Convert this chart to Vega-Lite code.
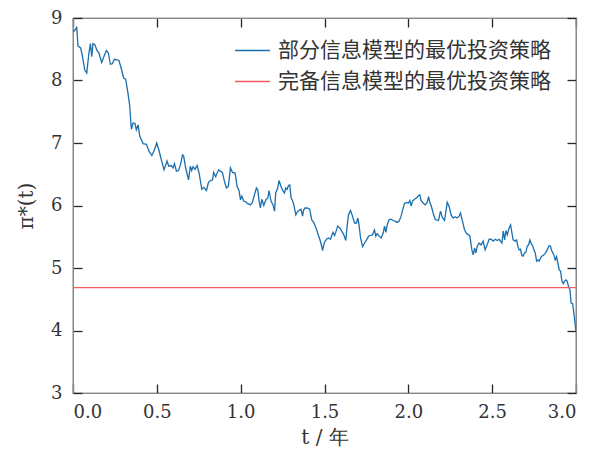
{
  "$schema": "https://vega.github.io/schema/vega-lite/v6.json",
  "autosize": "none",
  "width": 503,
  "height": 375,
  "padding": {"left": 73, "top": 18, "right": 14, "bottom": 61},
  "background": "white",
  "config": {
    "view": {"stroke": "#333333", "strokeWidth": 1.2},
    "font": "DejaVu Serif",
    "axis": {
      "tickColor": "#262626",
      "tickWidth": 1.3,
      "labelFont": "DejaVu Serif",
      "labelFontSize": 18,
      "labelColor": "#333333",
      "titleFont": "DejaVu Serif",
      "titleFontSize": 20,
      "titleColor": "#333333",
      "titleFontWeight": "normal"
    }
  },
  "data": {
    "values": [
      {"t": 0.000, "v": 8.78, "s": "部分信息模型的最优投资策略"},
      {"t": 0.016, "v": 8.82, "s": "部分信息模型的最优投资策略"},
      {"t": 0.022, "v": 8.86, "s": "部分信息模型的最优投资策略"},
      {"t": 0.030, "v": 8.55, "s": "部分信息模型的最优投资策略"},
      {"t": 0.046, "v": 8.52, "s": "部分信息模型的最优投资策略"},
      {"t": 0.056, "v": 8.39, "s": "部分信息模型的最优投资策略"},
      {"t": 0.070, "v": 8.17, "s": "部分信息模型的最优投资策略"},
      {"t": 0.082, "v": 8.12, "s": "部分信息模型的最优投资策略"},
      {"t": 0.095, "v": 8.44, "s": "部分信息模型的最优投资策略"},
      {"t": 0.104, "v": 8.59, "s": "部分信息模型的最优投资策略"},
      {"t": 0.112, "v": 8.38, "s": "部分信息模型的最优投资策略"},
      {"t": 0.119, "v": 8.59, "s": "部分信息模型的最优投资策略"},
      {"t": 0.131, "v": 8.57, "s": "部分信息模型的最优投资策略"},
      {"t": 0.143, "v": 8.48, "s": "部分信息模型的最优投资策略"},
      {"t": 0.155, "v": 8.44, "s": "部分信息模型的最优投资策略"},
      {"t": 0.171, "v": 8.29, "s": "部分信息模型的最优投资策略"},
      {"t": 0.187, "v": 8.40, "s": "部分信息模型的最优投资策略"},
      {"t": 0.199, "v": 8.48, "s": "部分信息模型的最优投资策略"},
      {"t": 0.211, "v": 8.44, "s": "部分信息模型的最优投资策略"},
      {"t": 0.223, "v": 8.26, "s": "部分信息模型的最优投资策略"},
      {"t": 0.235, "v": 8.27, "s": "部分信息模型的最优投资策略"},
      {"t": 0.247, "v": 8.34, "s": "部分信息模型的最优投资策略"},
      {"t": 0.263, "v": 8.33, "s": "部分信息模型的最优投资策略"},
      {"t": 0.274, "v": 8.32, "s": "部分信息模型的最优投资策略"},
      {"t": 0.289, "v": 8.18, "s": "部分信息模型的最优投资策略"},
      {"t": 0.302, "v": 8.04, "s": "部分信息模型的最优投资策略"},
      {"t": 0.314, "v": 8.02, "s": "部分信息模型的最优投资策略"},
      {"t": 0.326, "v": 7.83, "s": "部分信息模型的最优投资策略"},
      {"t": 0.338, "v": 7.60, "s": "部分信息模型的最优投资策略"},
      {"t": 0.348, "v": 7.22, "s": "部分信息模型的最优投资策略"},
      {"t": 0.358, "v": 7.32, "s": "部分信息模型的最优投资策略"},
      {"t": 0.370, "v": 7.31, "s": "部分信息模型的最优投资策略"},
      {"t": 0.378, "v": 7.21, "s": "部分信息模型的最优投资策略"},
      {"t": 0.388, "v": 7.29, "s": "部分信息模型的最优投资策略"},
      {"t": 0.398, "v": 7.11, "s": "部分信息模型的最优投资策略"},
      {"t": 0.418, "v": 6.99, "s": "部分信息模型的最优投资策略"},
      {"t": 0.438, "v": 6.98, "s": "部分信息模型的最优投资策略"},
      {"t": 0.453, "v": 6.87, "s": "部分信息模型的最优投资策略"},
      {"t": 0.470, "v": 6.80, "s": "部分信息模型的最优投资策略"},
      {"t": 0.486, "v": 6.89, "s": "部分信息模型的最优投资策略"},
      {"t": 0.499, "v": 7.00, "s": "部分信息模型的最优投资策略"},
      {"t": 0.513, "v": 6.88, "s": "部分信息模型的最优投资策略"},
      {"t": 0.527, "v": 6.73, "s": "部分信息模型的最优投资策略"},
      {"t": 0.543, "v": 6.57, "s": "部分信息模型的最优投资策略"},
      {"t": 0.561, "v": 6.71, "s": "部分信息模型的最优投资策略"},
      {"t": 0.571, "v": 6.63, "s": "部分信息模型的最优投资策略"},
      {"t": 0.585, "v": 6.64, "s": "部分信息模型的最优投资策略"},
      {"t": 0.597, "v": 6.60, "s": "部分信息模型的最优投资策略"},
      {"t": 0.605, "v": 6.67, "s": "部分信息模型的最优投资策略"},
      {"t": 0.617, "v": 6.55, "s": "部分信息模型的最优投资策略"},
      {"t": 0.629, "v": 6.56, "s": "部分信息模型的最优投资策略"},
      {"t": 0.641, "v": 6.65, "s": "部分信息模型的最优投资策略"},
      {"t": 0.653, "v": 6.81, "s": "部分信息模型的最优投资策略"},
      {"t": 0.660, "v": 6.79, "s": "部分信息模型的最优投资策略"},
      {"t": 0.672, "v": 6.60, "s": "部分信息模型的最优投资策略"},
      {"t": 0.689, "v": 6.41, "s": "部分信息模型的最优投资策略"},
      {"t": 0.700, "v": 6.63, "s": "部分信息模型的最优投资策略"},
      {"t": 0.708, "v": 6.56, "s": "部分信息模型的最优投资策略"},
      {"t": 0.716, "v": 6.62, "s": "部分信息模型的最优投资策略"},
      {"t": 0.728, "v": 6.58, "s": "部分信息模型的最优投资策略"},
      {"t": 0.740, "v": 6.64, "s": "部分信息模型的最优投资策略"},
      {"t": 0.752, "v": 6.52, "s": "部分信息模型的最优投资策略"},
      {"t": 0.768, "v": 6.26, "s": "部分信息模型的最优投资策略"},
      {"t": 0.780, "v": 6.29, "s": "部分信息模型的最优投资策略"},
      {"t": 0.796, "v": 6.24, "s": "部分信息模型的最优投资策略"},
      {"t": 0.808, "v": 6.37, "s": "部分信息模型的最优投资策略"},
      {"t": 0.820, "v": 6.40, "s": "部分信息模型的最优投资策略"},
      {"t": 0.832, "v": 6.41, "s": "部分信息模型的最优投资策略"},
      {"t": 0.839, "v": 6.53, "s": "部分信息模型的最优投资策略"},
      {"t": 0.851, "v": 6.46, "s": "部分信息模型的最优投资策略"},
      {"t": 0.868, "v": 6.57, "s": "部分信息模型的最优投资策略"},
      {"t": 0.879, "v": 6.55, "s": "部分信息模型的最优投资策略"},
      {"t": 0.891, "v": 6.53, "s": "部分信息模型的最优投资策略"},
      {"t": 0.903, "v": 6.39, "s": "部分信息模型的最优投资策略"},
      {"t": 0.915, "v": 6.28, "s": "部分信息模型的最优投资策略"},
      {"t": 0.927, "v": 6.31, "s": "部分信息模型的最优投资策略"},
      {"t": 0.939, "v": 6.60, "s": "部分信息模型的最优投资策略"},
      {"t": 0.951, "v": 6.53, "s": "部分信息模型的最优投资策略"},
      {"t": 0.967, "v": 6.52, "s": "部分信息模型的最优投资策略"},
      {"t": 0.979, "v": 6.30, "s": "部分信息模型的最优投资策略"},
      {"t": 0.990, "v": 6.24, "s": "部分信息模型的最优投资策略"},
      {"t": 0.999, "v": 6.09, "s": "部分信息模型的最优投资策略"},
      {"t": 1.007, "v": 6.15, "s": "部分信息模型的最优投资策略"},
      {"t": 1.019, "v": 6.07, "s": "部分信息模型的最优投资策略"},
      {"t": 1.030, "v": 6.06, "s": "部分信息模型的最优投资策略"},
      {"t": 1.042, "v": 6.03, "s": "部分信息模型的最优投资策略"},
      {"t": 1.058, "v": 6.01, "s": "部分信息模型的最优投资策略"},
      {"t": 1.070, "v": 6.05, "s": "部分信息模型的最优投资策略"},
      {"t": 1.082, "v": 6.17, "s": "部分信息模型的最优投资策略"},
      {"t": 1.094, "v": 6.28, "s": "部分信息模型的最优投资策略"},
      {"t": 1.102, "v": 6.25, "s": "部分信息模型的最优投资策略"},
      {"t": 1.110, "v": 6.07, "s": "部分信息模型的最优投资策略"},
      {"t": 1.118, "v": 5.96, "s": "部分信息模型的最优投资策略"},
      {"t": 1.126, "v": 6.10, "s": "部分信息模型的最优投资策略"},
      {"t": 1.138, "v": 6.00, "s": "部分信息模型的最优投资策略"},
      {"t": 1.150, "v": 6.09, "s": "部分信息模型的最优投资策略"},
      {"t": 1.162, "v": 6.12, "s": "部分信息模型的最优投资策略"},
      {"t": 1.169, "v": 6.24, "s": "部分信息模型的最优投资策略"},
      {"t": 1.181, "v": 6.07, "s": "部分信息模型的最优投资策略"},
      {"t": 1.193, "v": 6.01, "s": "部分信息模型的最优投资策略"},
      {"t": 1.202, "v": 5.91, "s": "部分信息模型的最优投资策略"},
      {"t": 1.209, "v": 6.20, "s": "部分信息模型的最优投资策略"},
      {"t": 1.221, "v": 6.28, "s": "部分信息模型的最优投资策略"},
      {"t": 1.229, "v": 6.40, "s": "部分信息模型的最优投资策略"},
      {"t": 1.241, "v": 6.30, "s": "部分信息模型的最优投资策略"},
      {"t": 1.253, "v": 6.23, "s": "部分信息模型的最优投资策略"},
      {"t": 1.261, "v": 6.20, "s": "部分信息模型的最优投资策略"},
      {"t": 1.269, "v": 6.28, "s": "部分信息模型的最优投资策略"},
      {"t": 1.277, "v": 6.26, "s": "部分信息模型的最优投资策略"},
      {"t": 1.285, "v": 6.32, "s": "部分信息模型的最优投资策略"},
      {"t": 1.293, "v": 6.33, "s": "部分信息模型的最优投资策略"},
      {"t": 1.301, "v": 6.12, "s": "部分信息模型的最优投资策略"},
      {"t": 1.309, "v": 6.08, "s": "部分信息模型的最优投资策略"},
      {"t": 1.317, "v": 6.01, "s": "部分信息模型的最优投资策略"},
      {"t": 1.329, "v": 5.85, "s": "部分信息模型的最优投资策略"},
      {"t": 1.341, "v": 5.91, "s": "部分信息模型的最优投资策略"},
      {"t": 1.353, "v": 5.93, "s": "部分信息模型的最优投资策略"},
      {"t": 1.360, "v": 5.94, "s": "部分信息模型的最优投资策略"},
      {"t": 1.369, "v": 5.83, "s": "部分信息模型的最优投资策略"},
      {"t": 1.376, "v": 5.93, "s": "部分信息模型的最优投资策略"},
      {"t": 1.384, "v": 5.96, "s": "部分信息模型的最优投资策略"},
      {"t": 1.396, "v": 5.96, "s": "部分信息模型的最优投资策略"},
      {"t": 1.412, "v": 5.94, "s": "部分信息模型的最优投资策略"},
      {"t": 1.424, "v": 5.77, "s": "部分信息模型的最优投资策略"},
      {"t": 1.436, "v": 5.73, "s": "部分信息模型的最优投资策略"},
      {"t": 1.452, "v": 5.62, "s": "部分信息模型的最优投资策略"},
      {"t": 1.464, "v": 5.52, "s": "部分信息模型的最优投资策略"},
      {"t": 1.472, "v": 5.46, "s": "部分信息模型的最优投资策略"},
      {"t": 1.484, "v": 5.34, "s": "部分信息模型的最优投资策略"},
      {"t": 1.488, "v": 5.28, "s": "部分信息模型的最优投资策略"},
      {"t": 1.500, "v": 5.41, "s": "部分信息模型的最优投资策略"},
      {"t": 1.512, "v": 5.46, "s": "部分信息模型的最优投资策略"},
      {"t": 1.524, "v": 5.48, "s": "部分信息模型的最优投资策略"},
      {"t": 1.536, "v": 5.46, "s": "部分信息模型的最优投资策略"},
      {"t": 1.544, "v": 5.53, "s": "部分信息模型的最优投资策略"},
      {"t": 1.551, "v": 5.57, "s": "部分信息模型的最优投资策略"},
      {"t": 1.560, "v": 5.52, "s": "部分信息模型的最优投资策略"},
      {"t": 1.567, "v": 5.57, "s": "部分信息模型的最优投资策略"},
      {"t": 1.579, "v": 5.67, "s": "部分信息模型的最优投资策略"},
      {"t": 1.591, "v": 5.64, "s": "部分信息模型的最优投资策略"},
      {"t": 1.603, "v": 5.59, "s": "部分信息模型的最优投资策略"},
      {"t": 1.615, "v": 5.53, "s": "部分信息模型的最优投资策略"},
      {"t": 1.627, "v": 5.44, "s": "部分信息模型的最优投资策略"},
      {"t": 1.635, "v": 5.67, "s": "部分信息模型的最优投资策略"},
      {"t": 1.643, "v": 5.85, "s": "部分信息模型的最优投资策略"},
      {"t": 1.655, "v": 5.92, "s": "部分信息模型的最优投资策略"},
      {"t": 1.667, "v": 5.83, "s": "部分信息模型的最优投资策略"},
      {"t": 1.679, "v": 5.72, "s": "部分信息模型的最优投资策略"},
      {"t": 1.691, "v": 5.72, "s": "部分信息模型的最优投资策略"},
      {"t": 1.699, "v": 5.80, "s": "部分信息模型的最优投资策略"},
      {"t": 1.706, "v": 5.69, "s": "部分信息模型的最优投资策略"},
      {"t": 1.715, "v": 5.48, "s": "部分信息模型的最优投资策略"},
      {"t": 1.727, "v": 5.34, "s": "部分信息模型的最优投资策略"},
      {"t": 1.739, "v": 5.40, "s": "部分信息模型的最优投资策略"},
      {"t": 1.751, "v": 5.45, "s": "部分信息模型的最优投资策略"},
      {"t": 1.763, "v": 5.51, "s": "部分信息模型的最优投资策略"},
      {"t": 1.774, "v": 5.52, "s": "部分信息模型的最优投资策略"},
      {"t": 1.786, "v": 5.53, "s": "部分信息模型的最优投资策略"},
      {"t": 1.798, "v": 5.61, "s": "部分信息模型的最优投资策略"},
      {"t": 1.806, "v": 5.51, "s": "部分信息模型的最优投资策略"},
      {"t": 1.814, "v": 5.55, "s": "部分信息模型的最优投资策略"},
      {"t": 1.826, "v": 5.51, "s": "部分信息模型的最优投资策略"},
      {"t": 1.838, "v": 5.48, "s": "部分信息模型的最优投资策略"},
      {"t": 1.850, "v": 5.56, "s": "部分信息模型的最优投资策略"},
      {"t": 1.858, "v": 5.67, "s": "部分信息模型的最优投资策略"},
      {"t": 1.866, "v": 5.57, "s": "部分信息模型的最优投资策略"},
      {"t": 1.874, "v": 5.69, "s": "部分信息模型的最优投资策略"},
      {"t": 1.885, "v": 5.77, "s": "部分信息模型的最优投资策略"},
      {"t": 1.897, "v": 5.78, "s": "部分信息模型的最优投资策略"},
      {"t": 1.909, "v": 5.76, "s": "部分信息模型的最优投资策略"},
      {"t": 1.921, "v": 5.75, "s": "部分信息模型的最优投资策略"},
      {"t": 1.933, "v": 5.73, "s": "部分信息模型的最优投资策略"},
      {"t": 1.945, "v": 5.75, "s": "部分信息模型的最优投资策略"},
      {"t": 1.957, "v": 5.83, "s": "部分信息模型的最优投资策略"},
      {"t": 1.966, "v": 5.93, "s": "部分信息模型的最优投资策略"},
      {"t": 1.977, "v": 6.03, "s": "部分信息模型的最优投资策略"},
      {"t": 1.989, "v": 6.05, "s": "部分信息模型的最优投资策略"},
      {"t": 2.001, "v": 6.04, "s": "部分信息模型的最优投资策略"},
      {"t": 2.009, "v": 6.08, "s": "部分信息模型的最优投资策略"},
      {"t": 2.017, "v": 5.99, "s": "部分信息模型的最优投资策略"},
      {"t": 2.025, "v": 6.07, "s": "部分信息模型的最优投资策略"},
      {"t": 2.037, "v": 6.10, "s": "部分信息模型的最优投资策略"},
      {"t": 2.049, "v": 6.12, "s": "部分信息模型的最优投资策略"},
      {"t": 2.061, "v": 6.16, "s": "部分信息模型的最优投资策略"},
      {"t": 2.069, "v": 6.17, "s": "部分信息模型的最优投资策略"},
      {"t": 2.076, "v": 6.08, "s": "部分信息模型的最优投资策略"},
      {"t": 2.088, "v": 6.04, "s": "部分信息模型的最优投资策略"},
      {"t": 2.100, "v": 6.01, "s": "部分信息模型的最优投资策略"},
      {"t": 2.112, "v": 6.05, "s": "部分信息模型的最优投资策略"},
      {"t": 2.121, "v": 6.14, "s": "部分信息模型的最优投资策略"},
      {"t": 2.128, "v": 6.05, "s": "部分信息模型的最优投资策略"},
      {"t": 2.136, "v": 6.00, "s": "部分信息模型的最优投资策略"},
      {"t": 2.148, "v": 5.88, "s": "部分信息模型的最优投资策略"},
      {"t": 2.160, "v": 5.78, "s": "部分信息模型的最优投资策略"},
      {"t": 2.168, "v": 5.77, "s": "部分信息模型的最优投资策略"},
      {"t": 2.180, "v": 5.76, "s": "部分信息模型的最优投资策略"},
      {"t": 2.192, "v": 5.91, "s": "部分信息模型的最优投资策略"},
      {"t": 2.204, "v": 5.80, "s": "部分信息模型的最优投资策略"},
      {"t": 2.216, "v": 5.76, "s": "部分信息模型的最优投资策略"},
      {"t": 2.232, "v": 6.05, "s": "部分信息模型的最优投资策略"},
      {"t": 2.244, "v": 5.98, "s": "部分信息模型的最优投资策略"},
      {"t": 2.255, "v": 5.85, "s": "部分信息模型的最优投资策略"},
      {"t": 2.267, "v": 5.80, "s": "部分信息模型的最优投资策略"},
      {"t": 2.279, "v": 5.82, "s": "部分信息模型的最优投资策略"},
      {"t": 2.291, "v": 5.80, "s": "部分信息模型的最优投资策略"},
      {"t": 2.303, "v": 5.83, "s": "部分信息模型的最优投资策略"},
      {"t": 2.311, "v": 5.88, "s": "部分信息模型的最优投资策略"},
      {"t": 2.323, "v": 5.75, "s": "部分信息模型的最优投资策略"},
      {"t": 2.335, "v": 5.61, "s": "部分信息模型的最优投资策略"},
      {"t": 2.347, "v": 5.55, "s": "部分信息模型的最优投资策略"},
      {"t": 2.359, "v": 5.53, "s": "部分信息模型的最优投资策略"},
      {"t": 2.367, "v": 5.51, "s": "部分信息模型的最优投资策略"},
      {"t": 2.379, "v": 5.29, "s": "部分信息模型的最优投资策略"},
      {"t": 2.387, "v": 5.21, "s": "部分信息模型的最优投资策略"},
      {"t": 2.395, "v": 5.32, "s": "部分信息模型的最优投资策略"},
      {"t": 2.403, "v": 5.24, "s": "部分信息模型的最优投资策略"},
      {"t": 2.411, "v": 5.35, "s": "部分信息模型的最优投资策略"},
      {"t": 2.422, "v": 5.40, "s": "部分信息模型的最优投资策略"},
      {"t": 2.434, "v": 5.37, "s": "部分信息模型的最优投资策略"},
      {"t": 2.446, "v": 5.43, "s": "部分信息模型的最优投资策略"},
      {"t": 2.458, "v": 5.29, "s": "部分信息模型的最优投资策略"},
      {"t": 2.470, "v": 5.37, "s": "部分信息模型的最优投资策略"},
      {"t": 2.482, "v": 5.46, "s": "部分信息模型的最优投资策略"},
      {"t": 2.494, "v": 5.46, "s": "部分信息模型的最优投资策略"},
      {"t": 2.506, "v": 5.43, "s": "部分信息模型的最优投资策略"},
      {"t": 2.518, "v": 5.46, "s": "部分信息模型的最优投资策略"},
      {"t": 2.530, "v": 5.44, "s": "部分信息模型的最优投资策略"},
      {"t": 2.542, "v": 5.46, "s": "部分信息模型的最优投资策略"},
      {"t": 2.550, "v": 5.43, "s": "部分信息模型的最优投资策略"},
      {"t": 2.558, "v": 5.40, "s": "部分信息模型的最优投资策略"},
      {"t": 2.566, "v": 5.59, "s": "部分信息模型的最优投资策略"},
      {"t": 2.574, "v": 5.45, "s": "部分信息模型的最优投资策略"},
      {"t": 2.582, "v": 5.60, "s": "部分信息模型的最优投资策略"},
      {"t": 2.590, "v": 5.53, "s": "部分信息模型的最优投资策略"},
      {"t": 2.601, "v": 5.64, "s": "部分信息模型的最优投资策略"},
      {"t": 2.610, "v": 5.69, "s": "部分信息模型的最优投资策略"},
      {"t": 2.618, "v": 5.56, "s": "部分信息模型的最优投资策略"},
      {"t": 2.625, "v": 5.45, "s": "部分信息模型的最优投资策略"},
      {"t": 2.637, "v": 5.43, "s": "部分信息模型的最优投资策略"},
      {"t": 2.646, "v": 5.45, "s": "部分信息模型的最优投资策略"},
      {"t": 2.653, "v": 5.35, "s": "部分信息模型的最优投资策略"},
      {"t": 2.661, "v": 5.29, "s": "部分信息模型的最优投资策略"},
      {"t": 2.669, "v": 5.30, "s": "部分信息模型的最优投资策略"},
      {"t": 2.677, "v": 5.20, "s": "部分信息模型的最优投资策略"},
      {"t": 2.685, "v": 5.19, "s": "部分信息模型的最优投资策略"},
      {"t": 2.693, "v": 5.24, "s": "部分信息模型的最优投资策略"},
      {"t": 2.701, "v": 5.25, "s": "部分信息模型的最优投资策略"},
      {"t": 2.709, "v": 5.35, "s": "部分信息模型的最优投资策略"},
      {"t": 2.717, "v": 5.37, "s": "部分信息模型的最优投资策略"},
      {"t": 2.725, "v": 5.45, "s": "部分信息模型的最优投资策略"},
      {"t": 2.733, "v": 5.39, "s": "部分信息模型的最优投资策略"},
      {"t": 2.741, "v": 5.36, "s": "部分信息模型的最优投资策略"},
      {"t": 2.749, "v": 5.29, "s": "部分信息模型的最优投资策略"},
      {"t": 2.757, "v": 5.24, "s": "部分信息模型的最优投资策略"},
      {"t": 2.765, "v": 5.11, "s": "部分信息模型的最优投资策略"},
      {"t": 2.773, "v": 5.13, "s": "部分信息模型的最优投资策略"},
      {"t": 2.780, "v": 5.11, "s": "部分信息模型的最优投资策略"},
      {"t": 2.789, "v": 5.16, "s": "部分信息模型的最优投资策略"},
      {"t": 2.796, "v": 5.19, "s": "部分信息模型的最优投资策略"},
      {"t": 2.804, "v": 5.20, "s": "部分信息模型的最优投资策略"},
      {"t": 2.816, "v": 5.23, "s": "部分信息模型的最优投资策略"},
      {"t": 2.828, "v": 5.29, "s": "部分信息模型的最优投资策略"},
      {"t": 2.840, "v": 5.36, "s": "部分信息模型的最优投资策略"},
      {"t": 2.848, "v": 5.35, "s": "部分信息模型的最优投资策略"},
      {"t": 2.856, "v": 5.27, "s": "部分信息模型的最优投资策略"},
      {"t": 2.868, "v": 5.21, "s": "部分信息模型的最优投资策略"},
      {"t": 2.876, "v": 5.13, "s": "部分信息模型的最优投资策略"},
      {"t": 2.884, "v": 5.18, "s": "部分信息模型的最优投资策略"},
      {"t": 2.892, "v": 5.08, "s": "部分信息模型的最优投资策略"},
      {"t": 2.900, "v": 4.97, "s": "部分信息模型的最优投资策略"},
      {"t": 2.908, "v": 4.95, "s": "部分信息模型的最优投资策略"},
      {"t": 2.916, "v": 4.79, "s": "部分信息模型的最优投资策略"},
      {"t": 2.924, "v": 4.75, "s": "部分信息模型的最优投资策略"},
      {"t": 2.932, "v": 4.79, "s": "部分信息模型的最优投资策略"},
      {"t": 2.940, "v": 4.81, "s": "部分信息模型的最优投资策略"},
      {"t": 2.947, "v": 4.79, "s": "部分信息模型的最优投资策略"},
      {"t": 2.956, "v": 4.70, "s": "部分信息模型的最优投资策略"},
      {"t": 2.964, "v": 4.65, "s": "部分信息模型的最优投资策略"},
      {"t": 2.971, "v": 4.44, "s": "部分信息模型的最优投资策略"},
      {"t": 2.980, "v": 4.43, "s": "部分信息模型的最优投资策略"},
      {"t": 2.987, "v": 4.28, "s": "部分信息模型的最优投资策略"},
      {"t": 3.000, "v": 3.99, "s": "部分信息模型的最优投资策略"},
      {"t": 0.0, "v": 4.685, "s": "完备信息模型的最优投资策略"},
      {"t": 3.0, "v": 4.685, "s": "完备信息模型的最优投资策略"}
    ]
  },
  "resolve": {"axis": {"x": "independent", "y": "independent"}},
  "layer": [
    {
      "mark": {"type": "line", "strokeWidth": 1.3, "clip": true},
      "encoding": {
        "x": {
          "field": "t", "type": "quantitative",
          "scale": {"domain": [0, 3], "nice": false, "zero": false},
          "axis": {"grid": false, "tickCount": 6, "format": ".1f", "title": "t / 年", "titlePadding": 6, "tickSize": -9, "labelPadding": 19}
        },
        "y": {
          "field": "v", "type": "quantitative",
          "scale": {"domain": [3, 9], "nice": false, "zero": false},
          "axis": {"grid": false, "tickCount": 6, "format": "d", "title": "π*(t)", "titlePadding": 14, "tickSize": -9, "labelPadding": 20}
        },
        "color": {
          "field": "s", "type": "nominal",
          "scale": {"domain": ["部分信息模型的最优投资策略", "完备信息模型的最优投资策略"], "range": ["#1a6faf", "#f25c5c"]},
          "legend": {
            "title": null,
            "orient": "none",
            "legendX": 161,
            "legendY": 22,
            "symbolType": "stroke",
            "symbolSize": 1225,
            "symbolStrokeWidth": 1.5,
            "clipHeight": 21,
            "rowPadding": 9,
            "labelFont": "Noto Sans CJK SC",
            "labelFontSize": 21,
            "labelColor": "#333333",
            "labelOffset": 7,
            "labelLimit": 400
          }
        }
      }
    },
    {
      "mark": {"type": "line", "opacity": 0},
      "encoding": {
        "x": {
          "field": "t", "type": "quantitative",
          "axis": {"orient": "top", "grid": false, "tickCount": 6, "labels": false, "title": null, "tickSize": -9}
        },
        "y": {
          "field": "v", "type": "quantitative",
          "axis": {"orient": "right", "grid": false, "tickCount": 6, "labels": false, "title": null, "tickSize": -9}
        }
      }
    }
  ]
}
